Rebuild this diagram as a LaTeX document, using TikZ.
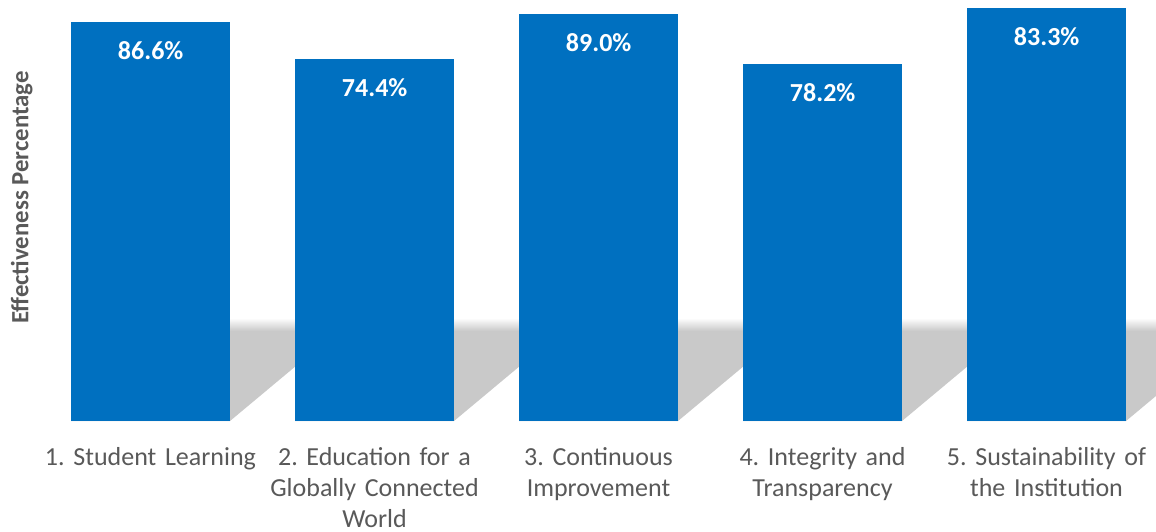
\documentclass[tikz,border=0pt]{standalone}
\usepackage{fontspec}
\setmainfont{Carlito}
\frenchspacing
\definecolor{barblue}{HTML}{0070C0}
\definecolor{txtgray}{HTML}{595959}
\definecolor{shadowgray}{HTML}{C9C9C9}
\tikzset{
  bar/.style={fill=barblue, draw=none, inner sep=0pt, minimum width=159pt, anchor=south west},
  val/.style={text=white, font={\fontsize{26}{31}\selectfont\bfseries}, inner sep=0pt},
  cat/.style={text=txtgray, font={\fontsize{26}{31}\selectfont}, align=center, text width=240pt, inner sep=0pt, anchor=base},
  axistitle/.style={text=txtgray, font={\fontsize{24.8}{29}\selectfont\bfseries}, rotate=90, anchor=base, inner sep=0pt}
}
\newcommand{\barshadow}[2]{%
  % #1 = left x, #2 = right x
  \fill[shadowgray] (#1,421) -- (#2,421) -- ({#2+115*(421-331)/96},331) -- ({#1+115*(421-331)/96},331) -- cycle;
  \shade[top color=white, bottom color=shadowgray] ({#1+115*(421-331)/96},331) -- ({#2+115*(421-331)/96},331) -- ({#2+115},318) -- ({#1+115},318) -- cycle;
}
\begin{document}
\begin{tikzpicture}[x=1pt,y=-1pt]
\useasboundingbox (0,0) rectangle (1156,531);
\begin{scope}
\clip (0,0) rectangle (1156,531);
\barshadow{71}{230}
\barshadow{295}{454}
\barshadow{519}{678}
\barshadow{743}{902}
\barshadow{967}{1126}
\end{scope}
\node[bar, minimum height=399pt] (b1) at (71,421) {};
\node[bar, minimum height=362pt] (b2) at (295,421) {};
\node[bar, minimum height=407pt] (b3) at (519,421) {};
\node[bar, minimum height=357pt] (b4) at (743,421) {};
\node[bar, minimum height=413pt] (b5) at (967,421) {};
\node[val] (v1) at ([yshift=-29pt]b1.north) {86.6\%};
\node[val] (v2) at ([yshift=-29pt]b2.north) {74.4\%};
\node[val] (v3) at ([yshift=-29pt]b3.north) {89.0\%};
\node[val] (v4) at ([yshift=-29pt]b4.north) {78.2\%};
\node[val] (v5) at ([yshift=-29pt]b5.north) {83.3\%};
\node[cat] (c1) at (150.5,465) {1. Student Learning};
\node[cat] (c2) at (374.5,465) {2. Education for a\\Globally Connected\\World};
\node[cat] (c3) at (598.5,465) {3. Continuous\\Improvement};
\node[cat] (c4) at (822.5,465) {4. Integrity and\\Transparency};
\node[cat] (c5) at (1046.5,465) {5. Sustainability of\\the Institution};
\node[axistitle] (yt) at (28.3,197.5) {Effectiveness Percentage};
\end{tikzpicture}
\end{document}
